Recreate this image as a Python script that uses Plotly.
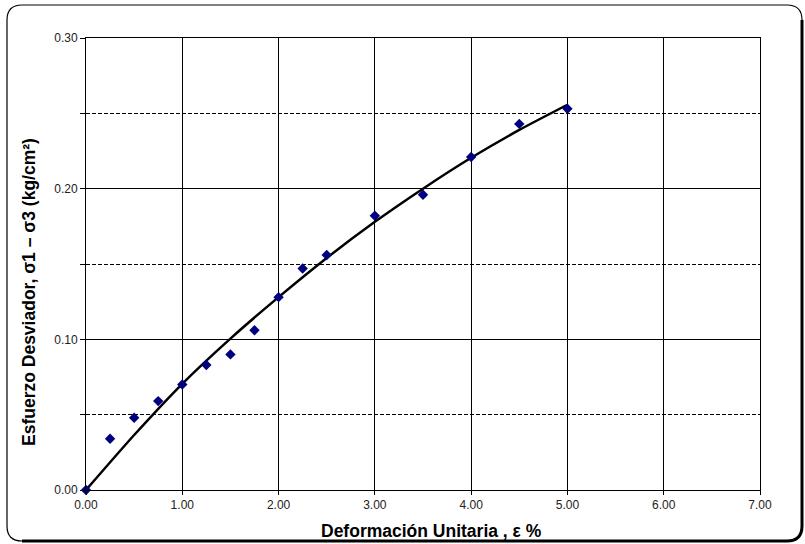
import plotly.graph_objects as go

# Measured data points (strain %, deviator stress kg/cm2)
strain = [0.00, 0.25, 0.50, 0.75, 1.00, 1.25, 1.50, 1.75, 2.00, 2.25, 2.50, 3.00, 3.50, 4.00, 4.50, 5.00]
stress = [0.000, 0.034, 0.048, 0.059, 0.070, 0.083, 0.090, 0.106, 0.128, 0.147, 0.156, 0.182, 0.196, 0.221, 0.243, 0.253]

# Trend curve
curve_x = [0.0, 0.5, 1.0, 1.5, 2.0, 2.5, 3.0, 3.5, 4.0, 4.5, 5.0]
curve_y = [0.0, 0.0365, 0.0705, 0.1005, 0.128, 0.154, 0.178, 0.200, 0.2205, 0.239, 0.2557]

x_ticks = [0, 1, 2, 3, 4, 5, 6, 7]
y_ticks = [0.0, 0.1, 0.2, 0.3]

x_title = "Deformación Unitaria , ε %"
y_title = "Esfuerzo Desviador, σ1 – σ3 (kg/cm²)"

W, H = 805, 544
ML, MR, MT, MB = 86, 45, 38, 54
PW, PH = W - ML - MR, H - MT - MB

def px(x):
    return (x - ML) / PW

def py(y):
    return (H - MB - y) / PH

fig = go.Figure()
fig.add_trace(go.Scatter(x=curve_x, y=curve_y, mode="lines",
                         line=dict(color="black", width=2.5, shape="spline", smoothing=0.6),
                         hoverinfo="skip", showlegend=False))
fig.add_trace(go.Scatter(x=strain, y=stress, mode="markers",
                         marker=dict(symbol="diamond", color="#000080", size=8),
                         cliponaxis=False, showlegend=False))

font = "Liberation Sans, Arial, sans-serif"

fig.update_layout(
    width=W, height=H,
    margin=dict(l=ML, r=MR, t=MT, b=MB, autoexpand=False),
    paper_bgcolor="white", plot_bgcolor="white",
    font=dict(family=font, color="#222", size=12),
    xaxis=dict(range=[0, 7], tickvals=x_ticks, tickformat=".2f",
               showgrid=True, gridcolor="black", gridwidth=1,
               showline=True, linecolor="black", linewidth=1, mirror=True,
               ticks="outside", ticklen=4, tickcolor="black",
               zeroline=False, fixedrange=True, automargin=False),
    yaxis=dict(range=[0, 0.3], tickvals=y_ticks, tickformat=".2f",
               showgrid=True, gridcolor="black", gridwidth=1,
               showline=True, linecolor="black", linewidth=1, mirror=True,
               ticks="outside", ticklen=5, tickcolor="black",
               zeroline=False, fixedrange=True, automargin=False,
               minor=dict(dtick=0.05, showgrid=True, gridcolor="black", gridwidth=1,
                          griddash="4px,2px", ticks="outside", ticklen=5, tickcolor="black")),
)

title_font = dict(size=17.5, color="black", family=font)
fig.add_annotation(text=f"<b>{x_title}</b>", xref="paper", yref="paper",
                   x=px(431), y=py(531), xanchor="center", yanchor="middle",
                   showarrow=False, font=title_font)
fig.add_annotation(text=f"<b>{y_title}</b>", xref="paper", yref="paper",
                   x=px(29), y=py(292), xanchor="center", yanchor="middle",
                   textangle=-90, showarrow=False, font=title_font)

# Rounded chart frame
x0, x1, y0, y1, r = 7, 802, 5, 541, 15
path = (f"M {px(x0+r)},{py(y0)} L {px(x1-r)},{py(y0)} Q {px(x1)},{py(y0)} {px(x1)},{py(y0+r)} "
        f"L {px(x1)},{py(y1-r)} Q {px(x1)},{py(y1)} {px(x1-r)},{py(y1)} "
        f"L {px(x0+r)},{py(y1)} Q {px(x0)},{py(y1)} {px(x0)},{py(y1-r)} "
        f"L {px(x0)},{py(y0+r)} Q {px(x0)},{py(y0)} {px(x0+r)},{py(y0)} Z")
fig.add_shape(type="path", path=path, xref="paper", yref="paper",
              line=dict(color="black", width=1.2), layer="below")
fig.add_shape(type="line", xref="paper", yref="paper",
              x0=px(x0 + r), x1=px(x1 - r), y0=py(y0), y1=py(y0),
              line=dict(color="#808080", width=2))
fig.add_shape(type="path", xref="paper", yref="paper",
              path=(f"M {px(x1)},{py(y0+r)} L {px(x1)},{py(y1-r)} Q {px(x1)},{py(y1)} {px(x1-r)},{py(y1)} "
                    f"L {px(x0+r)},{py(y1)}"),
              line=dict(color="black", width=3))

fig.write_html("out.html", config={"displayModeBar": False},
               post_script="document.body.style.margin='0';")
